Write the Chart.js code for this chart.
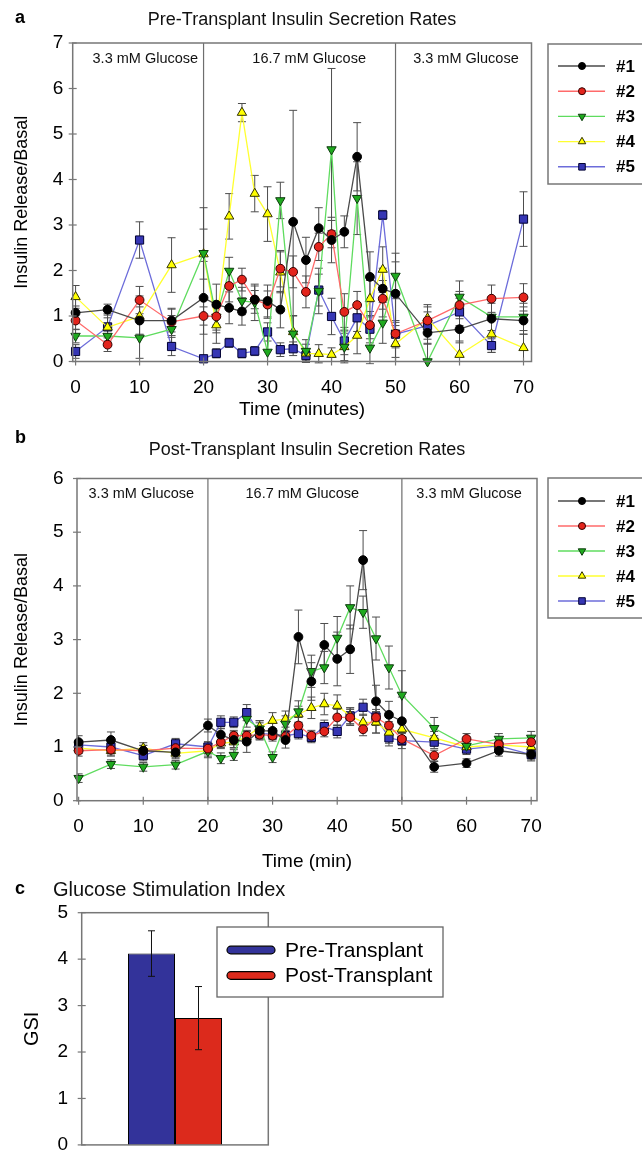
<!DOCTYPE html>
<html><head><meta charset="utf-8">
<script src="https://cdn.jsdelivr.net/npm/chart.js@4.4.1/dist/chart.umd.min.js"></script>
<style>
html,body{margin:0;padding:0;background:#fff;}
#wrap{position:relative;width:642px;height:1153px;overflow:hidden;background:#fff;}
canvas{position:absolute;left:0;}
</style></head><body>
<div id="wrap">
<canvas id="ca" width="642" height="430" style="top:0px"></canvas>
<canvas id="cb" width="642" height="450" style="top:430px"></canvas>
<canvas id="cc" width="642" height="300" style="top:870px"></canvas>
</div>
<script>
// ---------------- DATA ----------------
const times = [0,5,10,15,20,22,24,26,28,30,32,34,36,38,40,42,44,46,48,50,55,60,65,70];
const seriesNames = ['#1','#2','#3','#4','#5'];
const xTickValues = [0,10,20,30,40,50,60,70];
const yTicksA = [0,1,2,3,4,5,6,7];
const yTicksB = [0,1,2,3,4,5,6];
const yTicksC = [0,1,2,3,4,5];
const phaseLabels = ['3.3 mM Glucose','16.7 mM Glucose','3.3 mM Glucose'];
const phaseBounds = [20,50];

// Pre-transplant means / errors
const pre1 = [1.07,1.14,0.90,0.90,1.40,1.25,1.18,1.10,1.36,1.33,1.14,3.07,2.23,2.93,2.67,2.85,4.50,1.86,1.60,1.49,0.63,0.71,0.94,0.90];
const pre2 = [0.90,0.37,1.35,0.87,1.00,0.99,1.66,1.80,1.36,1.25,2.04,1.97,1.53,2.52,2.80,1.09,1.24,0.80,1.38,0.61,0.90,1.24,1.38,1.41];
const pre3 = [0.56,0.56,0.52,0.71,2.38,0.98,1.99,1.33,1.30,0.21,3.54,0.61,0.23,1.55,4.66,0.32,3.59,0.30,0.85,1.88,0.00,1.42,0.98,0.98];
const pre4 = [1.42,0.75,0.99,2.12,2.36,0.80,3.19,5.47,3.69,3.24,1.96,0.65,0.18,0.17,0.15,0.32,0.57,1.38,2.02,0.39,0.95,0.15,0.60,0.30];
const pre5 = [0.22,0.76,2.67,0.33,0.06,0.18,0.41,0.18,0.23,0.65,0.26,0.28,0.13,1.57,0.99,0.45,0.96,0.71,3.22,0.60,0.79,1.09,0.35,3.13];
const preErr1 = [0.15,0.12,0.30,0.25,0.80,0.45,0.35,0.30,0.30,0.35,0.40,2.45,0.50,0.45,0.50,0.35,0.75,0.55,0.45,0.70,0.25,0.30,0.40,0.30];
const preErr2 = [0.20,0.15,0.30,0.30,0.20,0.30,0.35,0.25,0.20,0.30,0.40,0.35,0.35,0.30,0.30,0.40,0.30,0.30,0.40,0.25,0.30,0.30,0.30,0.30];
const preErr3 = [0.15,0.20,0.45,0.30,1.00,0.35,0.30,0.30,0.40,0.40,0.40,0.40,0.25,0.50,1.78,0.35,0.80,0.35,0.45,0.50,0.40,0.35,0.30,0.30];
const preErr4 = [0.25,0.30,0.45,0.60,0.55,0.40,0.50,0.20,0.40,0.60,0.45,0.35,0.20,0.20,0.15,0.30,0.40,0.40,0.50,0.30,0.30,0.30,0.40,0.30];
const preErr5 = [0.15,0.20,0.40,0.20,0.05,0.10,0.10,0.10,0.10,0.20,0.15,0.15,0.10,0.35,0.40,0.30,0.30,0.30,0.10,0.30,0.30,0.30,0.15,0.60];

// Post-transplant means / errors
const post1 = [1.09,1.13,0.93,0.90,1.40,1.23,1.13,1.10,1.30,1.30,1.13,3.05,2.22,2.90,2.64,2.82,4.48,1.85,1.60,1.48,0.63,0.70,0.93,0.86];
const post2 = [0.93,0.95,0.93,0.98,0.97,1.09,1.21,1.21,1.23,1.21,1.20,1.40,1.21,1.29,1.55,1.55,1.33,1.55,1.40,1.15,0.84,1.15,1.05,1.09];
const post3 = [0.42,0.68,0.63,0.67,0.92,0.79,0.85,1.52,1.34,0.81,1.43,1.66,2.41,2.48,3.03,3.60,3.51,3.02,2.48,1.97,1.35,1.02,1.15,1.17];
const post4 = [0.98,0.93,0.98,0.88,0.93,1.07,1.09,1.19,1.37,1.49,1.52,1.61,1.73,1.80,1.77,1.58,1.46,1.46,1.27,1.33,1.17,1.00,1.04,1.00];
const post5 = [1.04,1.00,0.84,1.06,1.00,1.46,1.46,1.64,1.25,1.24,1.21,1.25,1.18,1.38,1.29,1.58,1.74,1.56,1.17,1.12,1.09,0.96,1.02,0.86];
const postErr1 = [0.12,0.15,0.10,0.10,0.12,0.12,0.15,0.20,0.15,0.15,0.15,0.50,0.35,0.40,0.50,0.45,0.55,0.30,0.25,0.45,0.10,0.08,0.10,0.12];
const postErr2 = [0.10,0.10,0.10,0.10,0.10,0.10,0.10,0.10,0.10,0.10,0.10,0.15,0.10,0.10,0.15,0.15,0.12,0.15,0.15,0.10,0.10,0.10,0.10,0.10];
const postErr3 = [0.08,0.08,0.08,0.08,0.12,0.10,0.10,0.15,0.15,0.10,0.15,0.20,0.30,0.30,0.40,0.40,0.30,0.40,0.40,0.45,0.20,0.12,0.10,0.12];
const postErr4 = [0.10,0.10,0.10,0.10,0.10,0.10,0.10,0.10,0.12,0.15,0.15,0.15,0.20,0.20,0.20,0.15,0.15,0.20,0.20,0.15,0.12,0.10,0.10,0.10];
const postErr5 = [0.08,0.10,0.10,0.10,0.10,0.12,0.10,0.15,0.10,0.10,0.10,0.10,0.10,0.12,0.12,0.15,0.15,0.30,0.15,0.15,0.12,0.10,0.10,0.10];

// Glucose stimulation index
const gsiLabels = ['Pre-Transplant','Post-Transplant'];
const gsiValues = [4.12, 2.73];
const gsiErrors = [0.49, 0.68];

// ---------------- STYLE ----------------
const FONT = "'Liberation Sans', Arial, Helvetica, sans-serif";
const lineColors   = ['#4a4a4a','#ff6a6a','#5fdc5f','#ffff30','#6c6cda'];
const markerFills  = ['#000000','#e3241c','#1faa1f','#ffff00','#3636b4'];
const markerStroke = ['#000000','#330000','#0c3a0c','#333300','#000033'];
const markerStyles = ['circle','circle','triangle','triangle','rect'];
const markerRot    = [0,0,180,0,0];
const markerRadius = [4.4,4.4,5.4,5.4,5.8];

Chart.defaults.font.family = FONT;
Chart.defaults.color = '#000';

function drawMarker(ctx, style, x, y, r, fill, stroke, rot) {
  ctx.beginPath();
  if (style === 'circle') ctx.arc(x, y, r, 0, Math.PI * 2);
  else if (style === 'rect') { const s = r * Math.SQRT1_2; ctx.rect(x - s, y - s, 2 * s, 2 * s); }
  else {
    const d = rot === 180 ? -1 : 1;
    ctx.moveTo(x, y - d * r);
    ctx.lineTo(x + r * 0.866, y + d * r * 0.5);
    ctx.lineTo(x - r * 0.866, y + d * r * 0.5);
    ctx.closePath();
  }
  ctx.fillStyle = fill; ctx.fill();
  ctx.lineWidth = 1; ctx.strokeStyle = stroke; ctx.stroke();
}

function strokeLine(ctx, x1, y1, x2, y2) {
  ctx.beginPath(); ctx.moveTo(x1, y1); ctx.lineTo(x2, y2); ctx.stroke();
}

function drawFrame(chart, yTicks, xTicks) {
  const {ctx, chartArea: a, scales} = chart;
  ctx.save();
  ctx.strokeStyle = '#777'; ctx.lineWidth = 1.5;
  ctx.strokeRect(a.left, a.top, a.right - a.left, a.bottom - a.top);
  ctx.lineWidth = 1.2;
  yTicks.forEach(v => { const py = scales.y.getPixelForValue(v); strokeLine(ctx, a.left - 4, py, a.left + 4, py); });
  if (xTicks) xTicks.forEach(v => { const px = scales.x.getPixelForValue(v); strokeLine(ctx, px, a.bottom - 4, px, a.bottom + 4); });
  ctx.restore();
}

const panelPlugin = {
  id: 'panel',
  beforeDatasetsDraw(chart, args, o) {
    const {ctx, chartArea: a, scales: {x, y}} = chart;
    ctx.save();
    ctx.strokeStyle = '#6e6e6e'; ctx.lineWidth = 1.2;
    o.bounds.forEach(b => { const px = x.getPixelForValue(b); strokeLine(ctx, px, a.top, px, a.bottom); });
    ctx.beginPath(); ctx.rect(a.left, a.top, a.right - a.left, a.bottom - a.top + 3); ctx.clip();
    ctx.strokeStyle = '#4d4d4d'; ctx.lineWidth = 1;
    chart.data.datasets.forEach((ds, i) => {
      const meta = chart.getDatasetMeta(i);
      ds.errors.forEach((e, j) => {
        const v = ds.data[j].y;
        const px = meta.data[j].x;
        const pt = y.getPixelForValue(v + e), pb = y.getPixelForValue(v - e);
        strokeLine(ctx, px, pt, px, pb);
        strokeLine(ctx, px - 4, pt, px + 4, pt);
        strokeLine(ctx, px - 4, pb, px + 4, pb);
      });
    });
    ctx.restore();
  },
  afterDraw(chart, args, o) {
    const {ctx, scales: {x}} = chart;
    drawFrame(chart, o.yTicks, xTickValues);
    ctx.save();
    ctx.fillStyle = '#000'; ctx.font = 'bold 18px ' + FONT; ctx.textBaseline = 'middle'; ctx.textAlign = 'left';
    ctx.fillText(o.letter, 15, o.letterY);
    ctx.font = '14.5px ' + FONT; ctx.textAlign = 'center'; ctx.fillStyle = '#111';
    phaseLabels.forEach((t, i) => ctx.fillText(t, x.getPixelForValue(o.labelT[i]), o.labelY));
    const L = o.legend;
    ctx.fillStyle = '#fff'; ctx.fillRect(L.x, L.y, L.w, L.h);
    ctx.strokeStyle = '#777'; ctx.lineWidth = 1.5; ctx.strokeRect(L.x, L.y, L.w, L.h);
    chart.data.datasets.forEach((ds, i) => {
      const iy = L.y0 + i * L.dy;
      ctx.strokeStyle = lineColors[i]; ctx.lineWidth = 1.4;
      strokeLine(ctx, L.x + 10, iy, L.x + 57, iy);
      drawMarker(ctx, markerStyles[i], L.x + 34, iy, markerRadius[i] * 0.8, markerFills[i], markerStroke[i], markerRot[i]);
      ctx.fillStyle = '#000'; ctx.font = 'bold 17px ' + FONT; ctx.textAlign = 'left'; ctx.textBaseline = 'middle';
      ctx.fillText(ds.label, L.x + 68, iy + 1);
    });
    ctx.restore();
  }
};

function lineChart(id, c) {
  const datasets = seriesNames.map((n, i) => ({
    label: n,
    data: times.map((t, j) => ({x: t, y: c.means[i][j]})),
    errors: c.errs[i],
    borderColor: lineColors[i],
    backgroundColor: markerFills[i],
    pointBackgroundColor: markerFills[i],
    pointBorderColor: markerStroke[i],
    pointBorderWidth: 1,
    pointStyle: markerStyles[i],
    pointRotation: markerRot[i],
    pointRadius: markerRadius[i],
    borderWidth: 1.3,
    tension: 0,
    clip: 6
  }));
  return new Chart(document.getElementById(id), {
    type: 'line',
    data: {datasets},
    options: {
      responsive: false, animation: false, devicePixelRatio: 1,
      layout: {padding: {left: 0, right: c.padRight, top: 0, bottom: 0}},
      plugins: {
        legend: {display: false}, tooltip: {enabled: false},
        title: {display: true, text: c.title, fullSize: false, color: '#111',
                font: {size: 18, weight: 'normal'}, padding: {top: c.titleTop, bottom: c.titleBottom}},
        panel: {bounds: phaseBounds, yTicks: c.yTicks, letter: c.letter, letterY: c.letterY,
                labelT: c.labelT, labelY: c.labelY, legend: c.legend}
      },
      scales: {
        x: {
          type: 'linear', min: c.xmin, max: c.xmax,
          afterFit: s => { s.height = c.xAxisH; },
          afterBuildTicks: s => { s.ticks = xTickValues.map(v => ({value: v})); },
          grid: {display: false, drawTicks: false}, border: {display: false},
          ticks: {font: {size: 19}, color: '#000', padding: c.xTickPad, maxRotation: 0, autoSkip: false, callback: v => String(v)},
          title: {display: true, text: c.xTitle, color: '#000', font: {size: 19}, padding: {top: 0, bottom: c.xTitlePad}}
        },
        y: {
          min: 0, max: c.yTicks[c.yTicks.length - 1],
          afterFit: s => { s.width = c.yAxisW; },
          afterBuildTicks: s => { s.ticks = c.yTicks.map(v => ({value: v})); },
          grid: {display: false, drawTicks: false}, border: {display: false},
          ticks: {font: {size: 19}, color: '#000', padding: c.yTickPad, callback: v => String(v)},
          title: {display: true, text: 'Insulin Release/Basal', color: '#000', font: {size: 18}, padding: {top: 11.2, bottom: 0}}
        }
      }
    },
    plugins: [panelPlugin]
  });
}

lineChart('ca', {
  title: 'Pre-Transplant Insulin Secretion Rates', titleTop: 9.2, titleBottom: 12.2,
  means: [pre1, pre2, pre3, pre4, pre5], errs: [preErr1, preErr2, preErr3, preErr4, preErr5],
  xmin: -0.45, xmax: 71.25, padRight: 110.5,
  yTicks: yTicksA, yAxisW: 72.7, yTickPad: 9.5,
  xAxisH: 68.5, xTickPad: 15, xTitle: 'Time (minutes)', xTitlePad: 8.6,
  letter: 'a', letterY: 18, labelT: [10.9, 36.5, 61.0], labelY: 59,
  legend: {x: 548, y: 44, w: 110, h: 140, y0: 66, dy: 25.2}
});

lineChart('cb', {
  title: 'Post-Transplant Insulin Secretion Rates', titleTop: 9.2, titleBottom: 17.7,
  means: [post1, post2, post3, post4, post5], errs: [postErr1, postErr2, postErr3, postErr4, postErr5],
  xmin: -0.25, xmax: 70.9, padRight: 105,
  yTicks: yTicksB, yAxisW: 77, yTickPad: 13.5,
  xAxisH: 79.3, xTickPad: 14.6, xTitle: 'Time (min)', xTitlePad: 6.6,
  letter: 'b', letterY: 8, labelT: [9.7, 34.6, 60.4], labelY: 64,
  legend: {x: 548, y: 48, w: 110, h: 140, y0: 71, dy: 25}
});

// ---------------- PANEL C ----------------
const gsiPlugin = {
  id: 'gsi',
  afterDatasetsDraw(chart) {
    const {ctx, scales: {y}} = chart;
    ctx.save(); ctx.strokeStyle = '#111'; ctx.lineWidth = 1;
    chart.data.datasets.forEach((ds, i) => {
      const bar = chart.getDatasetMeta(i).data[0];
      const v = ds.data[0], e = gsiErrors[i];
      const pt = y.getPixelForValue(v + e), pb = y.getPixelForValue(v - e);
      strokeLine(ctx, bar.x, pt, bar.x, pb);
      strokeLine(ctx, bar.x - 3.5, pt, bar.x + 3.5, pt);
      strokeLine(ctx, bar.x - 3.5, pb, bar.x + 3.5, pb);
    });
    ctx.restore();
  },
  afterDraw(chart) {
    const {ctx} = chart;
    drawFrame(chart, yTicksC, null);
    ctx.save();
    ctx.fillStyle = '#000'; ctx.textBaseline = 'middle'; ctx.textAlign = 'left';
    ctx.font = 'bold 18px ' + FONT; ctx.fillText('c', 15, 19);
    ctx.font = '20px ' + FONT; ctx.fillStyle = '#111'; ctx.fillText('Glucose Stimulation Index', 53, 20);
    const Lx = 217, Ly = 57, Lw = 226, Lh = 70;
    ctx.fillStyle = '#fff'; ctx.fillRect(Lx, Ly, Lw, Lh);
    ctx.strokeStyle = '#666'; ctx.lineWidth = 1.3; ctx.strokeRect(Lx, Ly, Lw, Lh);
    chart.data.datasets.forEach((ds, i) => {
      const iy = 80 + i * 25.5;
      ctx.beginPath();
      if (ctx.roundRect) ctx.roundRect(227, iy - 3.8, 48, 7.6, 3.8); else ctx.rect(227, iy - 3.8, 48, 7.6);
      ctx.fillStyle = ds.backgroundColor; ctx.fill();
      ctx.strokeStyle = '#000'; ctx.lineWidth = 1.2; ctx.stroke();
      ctx.fillStyle = '#000'; ctx.font = '21px ' + FONT; ctx.textBaseline = 'middle';
      ctx.fillText(ds.label, 285, iy + 1);
    });
    ctx.restore();
  }
};

new Chart(document.getElementById('cc'), {
  type: 'bar',
  data: {
    labels: [''],
    datasets: [
      {label: gsiLabels[0], data: [gsiValues[0]], backgroundColor: '#33339a', borderColor: '#000', borderWidth: 1},
      {label: gsiLabels[1], data: [gsiValues[1]], backgroundColor: '#dc2a1c', borderColor: '#000', borderWidth: 1}
    ]
  },
  options: {
    responsive: false, animation: false, devicePixelRatio: 1,
    layout: {padding: {left: 0, right: 373.7, top: 42.7, bottom: 0}},
    datasets: {bar: {categoryPercentage: 0.504, barPercentage: 1}},
    plugins: {legend: {display: false}, tooltip: {enabled: false}, title: {display: false}},
    scales: {
      x: {type: 'category', afterFit: s => { s.height = 8; },
          grid: {display: false, drawTicks: false}, border: {display: false}, ticks: {display: false}},
      y: {min: 0, max: 5,
          afterFit: s => { s.width = 81.7; },
          afterBuildTicks: s => { s.ticks = yTicksC.map(v => ({value: v})); },
          grid: {display: false, drawTicks: false}, border: {display: false},
          ticks: {font: {size: 19}, color: '#000', padding: 13.7, callback: v => String(v)},
          title: {display: true, text: 'GSI', color: '#000', font: {size: 20}, padding: {top: 20, bottom: 0}}}
    }
  },
  plugins: [gsiPlugin]
});
</script>
</body></html>
